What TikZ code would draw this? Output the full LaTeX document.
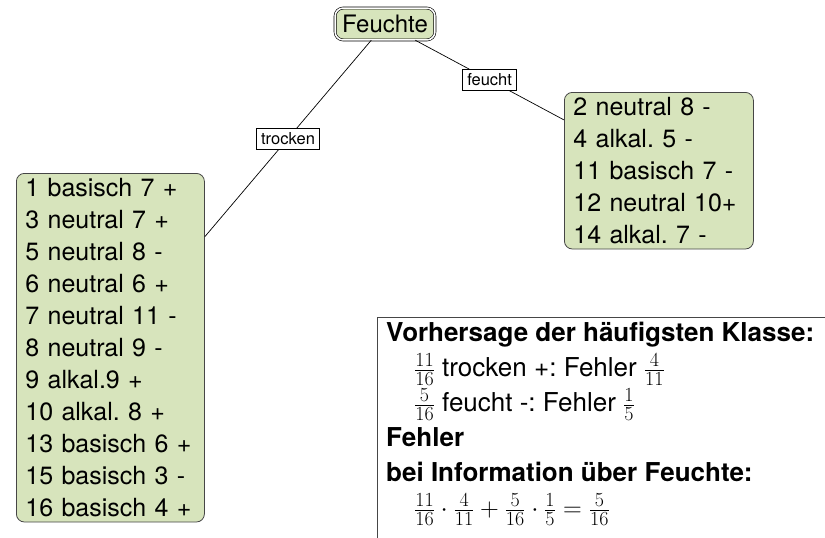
\documentclass[tikz,border=0pt]{standalone}
\usepackage{fix-cm}
\usepackage[no-math]{fontspec}
\setmainfont{TeX Gyre Heros}
\DeclareMathSizes{26}{26}{20}{14}
\frenchspacing
\definecolor{leafgreen}{RGB}{215,228,188}
\definecolor{frame}{RGB}{70,70,70}
\begin{document}
\begin{tikzpicture}[x=1pt,y=-1pt,
  leaf/.style={draw=frame, fill=leafgreen, rounded corners=8pt, line width=0.8pt,
    align=left, anchor=north west, inner xsep=9pt, inner ysep=5pt,
    font=\fontsize{25}{32}\selectfont},
  rootnode/.style={draw=black, double=white, double distance=1.6pt, line width=0.6pt,
    fill=leafgreen, rounded corners=8pt, inner xsep=7pt, inner ysep=7pt,
    font=\fontsize{24}{28}\selectfont},
  conn/.style={draw=black, line width=0.7pt},
  edgelabel/.style={draw=black, fill=white, line width=0.6pt, inner xsep=4.5pt, inner ysep=4.5pt,
    font=\fontsize{16.5}{19}\selectfont},
  sumframe/.style={draw=frame, line width=0.9pt},
  sumtext/.style={anchor=north west, align=left, inner xsep=9pt, inner ysep=5pt,
    font=\fontsize{26}{35}\selectfont}]
\useasboundingbox (0,0) rectangle (825,538);

\node[rootnode] (root) at (385,24) {Feuchte};

\node[leaf, text width=170pt] (dry) at (16,173) {1 basisch 7 +\\3 neutral 7 +\\5 neutral 8 -\\6 neutral 6 +\\7 neutral 11 -\\8 neutral 9 -\\9 alkal.9 +\\10 alkal. 8 +\\13 basisch 6 +\\15 basisch 3 -\\16 basisch 4 +};

\node[leaf, text width=171pt] (wet) at (564,92) {2 neutral 8 -\\4 alkal. 5 -\\11 basisch 7 -\\12 neutral 10+\\14 alkal. 7 -};

\draw[conn] (root) -- node[edgelabel] {trocken} (dry);
\draw[conn] (root) -- node[edgelabel] {feucht} (wet);

\draw[sumframe] (377,317) rectangle (840,550);
\node[sumtext] (summary) at (377,317) {\textbf{Vorhersage der häufigsten Klasse:}\\
\hspace*{28pt}$\frac{11}{16}$ trocken +: Fehler $\frac{4}{11}$\\
\hspace*{28pt}$\frac{5}{16}$ feucht -: Fehler $\frac{1}{5}$\\
\textbf{Fehler}\\
\textbf{bei Information über Feuchte:}\\
\hspace*{28pt}$\frac{11}{16}\cdot\frac{4}{11}+\frac{5}{16}\cdot\frac{1}{5}=\frac{5}{16}$};
\end{tikzpicture}
\end{document}
